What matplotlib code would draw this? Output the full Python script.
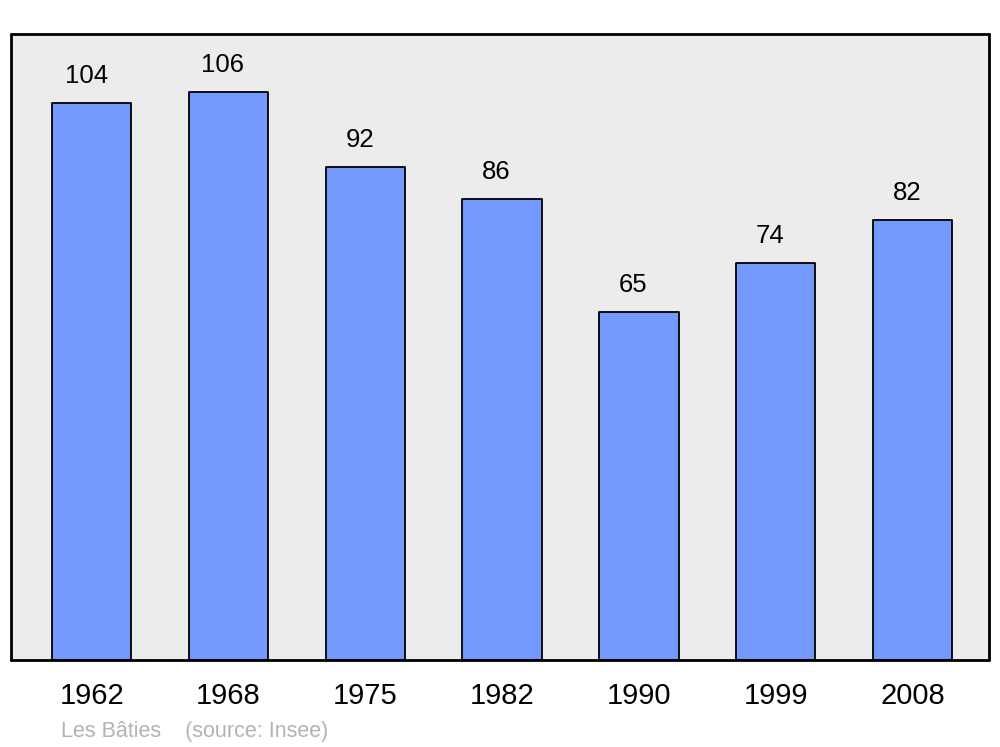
import matplotlib
matplotlib.use("Agg")
import matplotlib.pyplot as plt

years = ["1962", "1968", "1975", "1982", "1990", "1999", "2008"]
population = [104, 106, 92, 86, 65, 74, 82]

plt.rcParams['font.family'] = ['Liberation Sans', 'DejaVu Sans']

fig = plt.figure(figsize=(10, 7.47), dpi=100)
ax = fig.add_axes([0.011, 0.1165, 0.978, 0.838])
ax.set_facecolor("#ececec")

x = list(range(len(years)))
bars = ax.bar(x, population, width=0.58, color="#7399ff", edgecolor="black",
              linewidth=1.3, zorder=2)
for b in bars:
    b.set_joinstyle("round")

for xi, v in zip(x, population):
    ax.annotate(str(v), (xi, v), xytext=(-4, 19.5), textcoords="offset points",
                ha="center", va="center", fontsize=18.5)

ax.set_xlim(-0.59, 6.56)
ax.set_ylim(0, 116.8)
ax.set_yticks([])
ax.set_xticks(x)
ax.set_xticklabels(years, fontsize=21)
ax.tick_params(axis="x", length=0, pad=16)
for s in ax.spines.values():
    s.set_linewidth(2.0)
    s.set_joinstyle("round")
    s.set_capstyle("round")

fig.text(0.061, 0.021, "Les Bâties    (source: Insee)", fontsize=15.5,
         color="#b3b3b3", ha="left", va="center")

fig.savefig("out.png", dpi=100)
